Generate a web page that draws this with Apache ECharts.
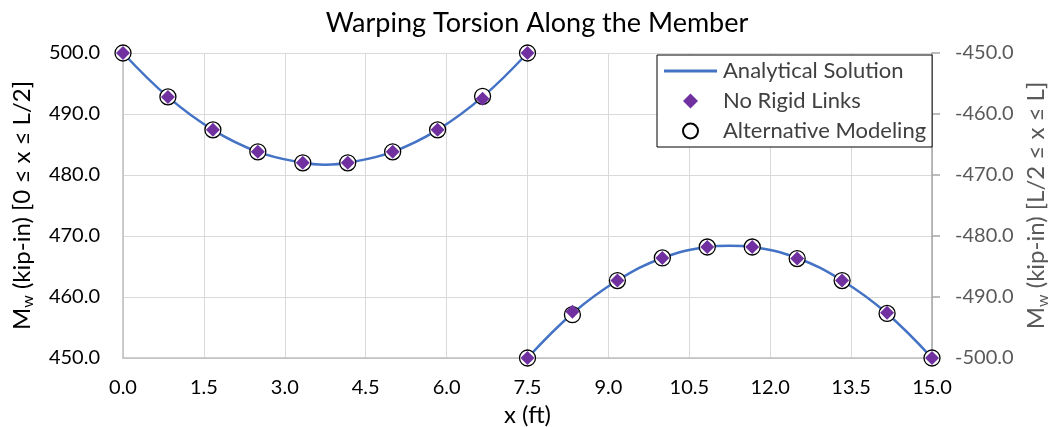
<!DOCTYPE html>
<html><head><meta charset="utf-8">
<script src="https://cdn.jsdelivr.net/npm/echarts@6/dist/echarts.min.js"></script>
<style>html,body{margin:0;padding:0;background:#fff}#c{width:1052px;height:427px}</style>
</head><body><div id="c"></div>
<script>
const title = 'Warping Torsion Along the Member';
const xLeft = [0, 0.833, 1.667, 2.5, 3.333, 4.167, 5.0, 5.833, 6.667, 7.5];
const xRight = [7.5, 8.333, 9.167, 10.0, 10.833, 11.667, 12.5, 13.333, 14.167, 15.0];
const noRigidLeft = [500.0, 492.8, 487.4, 483.8, 482.0, 482.0, 483.8, 487.4, 492.5, 500.0];
const altLeft = [500.0, 492.8, 487.4, 483.8, 482.0, 482.0, 483.8, 487.4, 492.9, 500.0];
const noRigidRight = [-500.0, -492.4, -487.3, -483.6, -481.8, -481.8, -483.7, -487.3, -492.6, -500.0];
const altRight = [-500.0, -492.9, -487.3, -483.6, -481.8, -481.8, -483.7, -487.3, -492.7, -500.0];
const xAnaLeft = [0, 0.833, 1.667, 2.5, 3.333, 3.75, 4.167, 5.0, 5.833, 6.667, 7.5];
const anaLeft = [500.0, 492.8, 487.4, 483.8, 482.0, 481.7, 482.0, 483.8, 487.4, 492.8, 500.0];
const xAnaRight = [7.5, 8.333, 9.167, 10.0, 10.833, 11.25, 11.667, 12.5, 13.333, 14.167, 15.0];
const anaRight = [-500.0, -492.7, -487.3, -483.6, -481.8, -481.6, -481.8, -483.6, -487.3, -492.7, -500.0];
const legendNames = ['Analytical Solution', 'No Rigid Links', 'Alternative Modeling'];

const pairs = (xs, ys) => xs.map((x, i) => [x, ys[i]]);
const FONT = 'Lato';
const chart = echarts.init(document.getElementById('c'), null, {renderer: 'canvas'});
const nameRich = c => ({
  a: {fontFamily: FONT, fontSize: 24, color: c},
  s: {fontFamily: FONT, fontSize: 16, color: c, padding: [12, 0, 0, 0]}
});
const lineStyle = {color: '#4472C4', width: 2.5};
const diamond = {color: '#7030A0', opacity: 1};
const circle = {color: '#fff', borderColor: '#000', borderWidth: 1.3, opacity: 1};
const fmt = v => v.toFixed(1);
chart.setOption({
  animation: false,
  backgroundColor: '#fff',
  title: {text: title, left: 532, textAlign: 'center', top: 5,
    textStyle: {fontFamily: FONT, fontSize: 27, fontWeight: 'normal', color: '#000'}},
  grid: {left: 123, right: 120, top: 53, bottom: 69, containLabel: false, outerBoundsMode: 'none'},
  legend: {
    data: [
      {name: legendNames[0], icon: 'path://M0,0H53V3H0Z'},
      {name: legendNames[1], icon: 'path://M8,0L16,8L8,16L0,8Z'},
      {name: legendNames[2], icon: 'path://M0,8A8,8 0 1,0 16,8A8,8 0 1,0 0,8Z'}
    ],
    orient: 'vertical', left: 657, top: 55,
    backgroundColor: '#fff', borderColor: '#000', borderWidth: 1,
    padding: [5, 6, 5, 7], itemWidth: 53, itemHeight: 15, itemGap: 8,
    textStyle: {fontFamily: FONT, fontSize: 22, color: '#404040', padding: [0, 0, 0, 1]}
  },
  xAxis: {
    type: 'value', min: 0, max: 15, interval: 1.5,
    name: 'x (ft)', nameLocation: 'middle', nameGap: 42,
    nameTextStyle: {fontFamily: FONT, fontSize: 24, color: '#000'},
    axisLine: {show: true, lineStyle: {color: '#BFBFBF', width: 1.5}},
    axisTick: {show: false},
    axisLabel: {fontFamily: FONT, fontSize: 20, color: '#000', margin: 20, formatter: fmt},
    splitLine: {show: true, lineStyle: {color: '#D9D9D9', width: 1}}
  },
  yAxis: [{
    type: 'value', min: 450, max: 500, interval: 10, position: 'left',
    name: '{a|M}{s|w}{a| (kip-in) [0 ≤ x ≤ L/2]}', nameLocation: 'middle', nameGap: 87, nameRotate: 90,
    nameTextStyle: {rich: nameRich('#000')},
    axisLine: {show: true, lineStyle: {color: '#BFBFBF', width: 1.5}},
    axisTick: {show: false},
    axisLabel: {fontFamily: FONT, fontSize: 20, color: '#000', margin: 23, formatter: fmt},
    splitLine: {show: true, lineStyle: {color: '#D9D9D9', width: 1}}
  }, {
    type: 'value', min: -500, max: -450, interval: 10, position: 'right',
    name: '{a|M}{s|w}{a| (kip-in) [L/2 ≤ x ≤ L]}', nameLocation: 'middle', nameGap: 89, nameRotate: 90,
    nameTextStyle: {rich: nameRich('#595959')},
    axisLine: {show: true, lineStyle: {color: '#A6A6A6', width: 1.5}},
    axisTick: {show: true, length: 8, lineStyle: {color: '#A6A6A6', width: 1.5}},
    axisLabel: {fontFamily: FONT, fontSize: 20, color: '#595959', margin: 23, formatter: fmt},
    splitLine: {show: false}
  }],
  series: [
    {name: legendNames[0], type: 'line', yAxisIndex: 0, data: pairs(xAnaLeft, anaLeft),
      smooth: 0.4, symbol: 'none', lineStyle, itemStyle: {color: '#4472C4'}, z: 2},
    {name: legendNames[0], type: 'line', yAxisIndex: 1, data: pairs(xAnaRight, anaRight),
      smooth: 0.4, symbol: 'none', lineStyle, itemStyle: {color: '#4472C4'}, z: 2},
    {name: legendNames[2], type: 'scatter', yAxisIndex: 0, data: pairs(xLeft, altLeft),
      symbol: 'circle', symbolSize: 16, itemStyle: circle, z: 3},
    {name: legendNames[2], type: 'scatter', yAxisIndex: 1, data: pairs(xRight, altRight),
      symbol: 'circle', symbolSize: 16, itemStyle: circle, z: 3},
    {name: legendNames[1], type: 'scatter', yAxisIndex: 0, data: pairs(xLeft, noRigidLeft),
      symbol: 'diamond', symbolSize: 14, itemStyle: diamond, z: 4},
    {name: legendNames[1], type: 'scatter', yAxisIndex: 1, data: pairs(xRight, noRigidRight),
      symbol: 'diamond', symbolSize: 14, itemStyle: diamond, z: 4}
  ]
});
</script></body></html>
